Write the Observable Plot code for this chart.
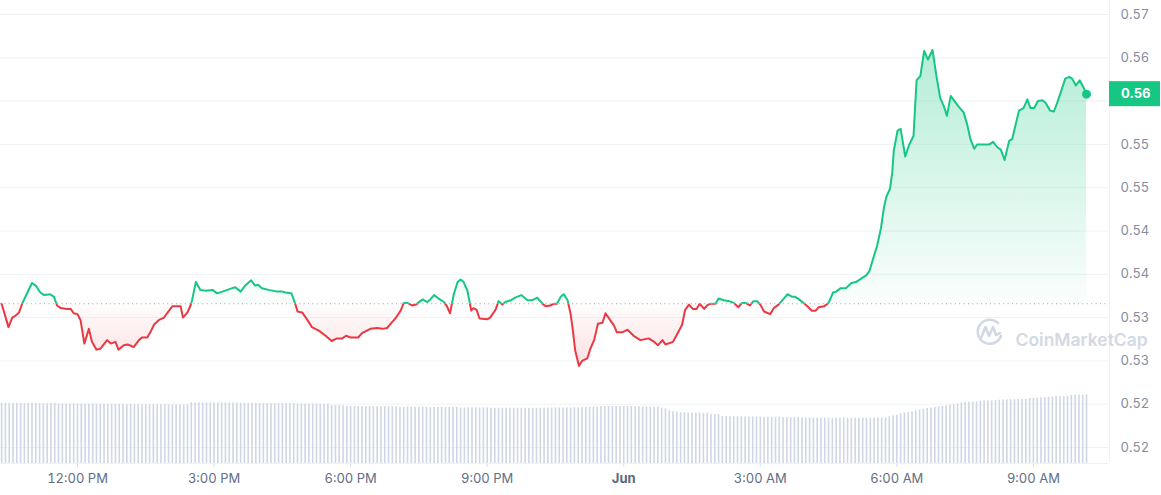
<!DOCTYPE html>
<html><head><meta charset="utf-8">
<script src="https://cdn.jsdelivr.net/npm/d3@7"></script>
<script src="https://cdn.jsdelivr.net/npm/@observablehq/plot@0.6"></script>
<style>
html,body{margin:0;padding:0;background:#fff;}
#chart{position:relative;width:1161px;height:495px;font-family:Inter,sans-serif;}
#chart svg{position:absolute;left:0;top:0;}
</style></head><body><div id="chart"></div>
<script>
// ---- data ----
const startUTC = Date.UTC(2024, 4, 31, 10, 20); // first sample: May 31, 10:20 AM
const priceMinutes = [0,9,14,18,23,27,34,40,45,51,56,64,69,73,78,86,91,95,100,104,109,115,119,125,130,139,144,150,154,161,166,174,181,185,192,196,201,207,214,218,225,236,239,245,249,251,256,262,269,278,284,291,304,308,315,321,329,334,338,343,352,363,370,374,382,387,390,396,401,409,418,427,435,442,449,454,460,470,475,486,495,502,508,515,519,526,530,535,541,546,552,555,561,565,570,576,583,587,591,596,601,605,609,614,619,622,626,630,640,644,651,655,660,664,671,677,685,693,699,706,713,717,723,728,732,737,741,746,750,753,756,761,765,772,776,781,786,792,796,803,807,811,818,825,833,842,853,860,865,871,875,885,893,897,901,906,911,916,920,926,930,934,941,945,952,959,965,971,976,981,986,991,996,1000,1005,1013,1018,1024,1031,1036,1042,1046,1051,1057,1062,1068,1073,1077,1084,1090,1096,1100,1106,1113,1120,1126,1133,1140,1144,1148,1154,1159,1163,1166,1171,1174,1176,1181,1185,1191,1196,1202,1206,1211,1216,1221,1227,1232,1237,1242,1246,1251,1256,1262,1268,1273,1277,1282,1286,1295,1302,1307,1312,1317,1322,1328,1332,1341,1347,1352,1356,1361,1366,1372,1376,1382,1387,1391,1396,1402,1407,1411,1416,1421,1427,1430];
const prices = [0.5366,0.5339,0.5350,0.5352,0.5356,0.5366,0.5379,0.5390,0.5387,0.5379,0.5376,0.5377,0.5374,0.5364,0.5361,0.5360,0.5360,0.5355,0.5354,0.5347,0.5320,0.5337,0.5322,0.5313,0.5314,0.5324,0.5320,0.5322,0.5313,0.5318,0.5319,0.5316,0.5324,0.5327,0.5327,0.5333,0.5342,0.5347,0.5350,0.5355,0.5363,0.5363,0.5350,0.5356,0.5364,0.5370,0.5391,0.5382,0.5381,0.5382,0.5378,0.5380,0.5384,0.5385,0.5380,0.5387,0.5393,0.5387,0.5388,0.5384,0.5382,0.5380,0.5380,0.5379,0.5378,0.5366,0.5357,0.5356,0.5350,0.5339,0.5335,0.5329,0.5323,0.5326,0.5326,0.5329,0.5327,0.5327,0.5332,0.5337,0.5338,0.5337,0.5338,0.5345,0.5349,0.5358,0.5367,0.5367,0.5364,0.5365,0.5369,0.5371,0.5368,0.5371,0.5376,0.5372,0.5368,0.5363,0.5355,0.5377,0.5391,0.5394,0.5391,0.5381,0.5358,0.5361,0.5359,0.5349,0.5348,0.5350,0.5359,0.5369,0.5365,0.5368,0.5370,0.5373,0.5376,0.5370,0.5370,0.5373,0.5366,0.5363,0.5364,0.5366,0.5366,0.5374,0.5377,0.5370,0.5354,0.5335,0.5312,0.5294,0.5300,0.5303,0.5314,0.5324,0.5343,0.5344,0.5355,0.5346,0.5341,0.5333,0.5333,0.5336,0.5329,0.5324,0.5326,0.5322,0.5318,0.5324,0.5319,0.5322,0.5335,0.5342,0.5359,0.5365,0.5360,0.5360,0.5366,0.5360,0.5364,0.5366,0.5366,0.5372,0.5370,0.5369,0.5367,0.5362,0.5367,0.5367,0.5364,0.5369,0.5369,0.5365,0.5357,0.5354,0.5361,0.5365,0.5372,0.5377,0.5374,0.5374,0.5371,0.5367,0.5363,0.5358,0.5358,0.5362,0.5363,0.5367,0.5379,0.5380,0.5384,0.5384,0.5390,0.5391,0.5395,0.5399,0.5404,0.5416,0.5433,0.5453,0.5477,0.5489,0.5499,0.5518,0.5543,0.5566,0.5568,0.5536,0.5549,0.5560,0.5624,0.5629,0.5658,0.5648,0.5659,0.5630,0.5604,0.5594,0.5583,0.5606,0.5600,0.5593,0.5587,0.5572,0.5556,0.5545,0.5550,0.5550,0.5550,0.5553,0.5547,0.5544,0.5532,0.5554,0.5556,0.5589,0.5592,0.5602,0.5592,0.5592,0.5600,0.5601,0.5598,0.5589,0.5588,0.5597,0.5610,0.5626,0.5628,0.5626,0.5618,0.5624,0.5614,0.5608];
const openPrice = 0.5366;
const volumeStepMinutes = 5;
const volumes = [241,241,241,240,240,
240,239,239,239,239,239,239,239,239,239,238,238,238,238,238,238,238,238,238,238,238,238,237,237,237,237,237,237,236,
236,235,235,235,235,235,235,235,235,235,235,234,234,234,234,235,
243,243,243,243,243,243,242,242,242,242,242,242,242,241,241,241,241,241,
240,240,239,239,239,239,239,239,239,239,238,238,238,238,238,238,237,237,237,
232,232,232,231,
229,229,228,228,228,228,228,228,228,227,227,227,227,227,
225,225,225,225,225,225,225,225,224,224,224,224,224,224,224,224,
222,222,222,222,222,222,222,222,221,221,221,221,221,221,221,221,221,221,221,221,221,221,221,221,222,222,222,222,222,222,223,223,
224,225,225,226,226,
228,228,228,228,228,228,228,228,228,
227,227,226,226,226,226,226,
220,219,
210,207,206,
203,203,202,202,202,202,201,201,
197,196,196,
188,188,187,187,187,187,186,186,186,186,186,185,185,185,185,185,184,184,184,184,184,
182,182,182,181,181,181,181,181,181,181,181,181,181,181,181,181,181,181,181,181,182,182,183,
187,190,193,
199,202,204,207,
211,214,216,
220,222,224,226,228,
231,234,236,239,
242,244,245,246,247,
249,250,251,251,252,
253,254,254,255,255,256,256,257,
260,261,262,263,263,
265,266,267,267,268,269,
272,273,274,274,275];
const yTickValues = [0.52,0.525,0.53,0.535,0.54,0.545,0.55,0.555,0.56,0.565,0.57];
const yTickLabels = ["0.52","0.52","0.53","0.53","0.54","0.54","0.55","0.55","0.56","0.56","0.57"];
const xTickMinutes = [100,280,460,640,820,1000,1180,1360];
const xTickLabels = ["12:00 PM","3:00 PM","6:00 PM","9:00 PM","Jun","3:00 AM","6:00 AM","9:00 AM"];
const xDomainMinutes = [-1.5, 1460.3];
const priceLabel = "0.56";
const watermark = "CoinMarketCap";

// ---- build ----
const GREEN = "#16c784", RED = "#ea3943";
const toDate = m => new Date(startUTC + m * 60000);
const priceData = priceMinutes.map((m, i) => ({time: toDate(m), price: prices[i]}));
const volData = volumes.map((v, i) => ({time: toDate(i * volumeStepMinutes), vol: v}));
const last = priceData[priceData.length - 1];
const yLabelMap = new Map(yTickValues.map((v, i) => [v, yTickLabels[i]]));
const xTicks = xTickMinutes.map(toDate);
const xLabelMap = new Map(xTicks.map((d, i) => [+d, xTickLabels[i]]));
const boldIdx = xTickLabels.indexOf("Jun");
const xTicksNormal = xTicks.filter((d, i) => i !== boldIdx);
const xTicksBold = xTicks.filter((d, i) => i === boldIdx);

const W = 1161, H = 495, ML = 0, MR = 52, MT = 0, MB = 32;
const xScale = {type: "utc", domain: xDomainMinutes.map(toDate), range: [ML, W - MR]};
const yScale = {domain: [0.52, 0.57], range: [447, 14], label: null};
// the tick label hidden behind the current-price tag is not shown
const yPix = v => yScale.range[0] + (v - yScale.domain[0]) / (yScale.domain[1] - yScale.domain[0]) * (yScale.range[1] - yScale.range[0]);
const yAxisTicks = yTickValues.filter(v => Math.abs(yPix(v) - yPix(last.price)) > 12);

const main = Plot.plot({
  width: W, height: H, marginLeft: ML, marginRight: MR, marginTop: MT, marginBottom: MB,
  x: {...xScale, label: null},
  y: yScale,
  style: {fontFamily: "Inter, sans-serif", fontSize: "13px", background: "white"},
  marks: [
    Plot.gridY(yTickValues, {stroke: "#eff2f5", strokeOpacity: 1}),
    Plot.areaY(priceData, {x: "time", y1: openPrice, y2: "price", fill: GREEN}),
    Plot.areaY(priceData, {x: "time", y1: openPrice, y2: "price", fill: RED}),
    Plot.ruleY([openPrice], {stroke: "#9aa3b5", strokeWidth: 1, strokeDasharray: "1,3.4"}),
    Plot.line(priceData, {x: "time", y: "price", stroke: GREEN, strokeWidth: 2}),
    Plot.line(priceData, {x: "time", y: "price", stroke: RED, strokeWidth: 2}),
    Plot.ruleX([xScale.domain[1]], {stroke: "#eff2f5"}),
    Plot.dot([last], {x: "time", y: "price", r: 4.5, fill: GREEN}),
    Plot.axisY(yAxisTicks, {anchor: "right", label: null, tickSize: 0, tickPadding: 11, tickFormat: d => yLabelMap.get(d), fill: "#858ca2", fontSize: 13}),
    Plot.axisX(xTicksNormal, {label: null, tickSize: 4, tickPadding: 6, stroke: "#d9dee8", tickFormat: d => xLabelMap.get(+d), fill: "#616e85", fontSize: 13}),
    Plot.axisX(xTicksBold, {label: null, tickSize: 4, tickPadding: 6, stroke: "#d9dee8", tickFormat: d => xLabelMap.get(+d), fill: "#58667e", fontWeight: "bold", fontSize: 13}),
    Plot.text([watermark], {frameAnchor: "top-left", dx: 1015, dy: 333, textAnchor: "start", fontSize: 17.5, fontWeight: 600, fill: "#d3d9e4"})
  ]
});

// gradients and clipping at the opening-price baseline
const ys = main.scale("y");
const baseY = ys.apply(openPrice);
const topY = ys.apply(d3.max(prices));
const botY = ys.apply(d3.min(prices));
const svg = d3.select(main);
const defs = svg.insert("defs", ":first-child");
const ug = defs.append("linearGradient").attr("id", "upGrad").attr("gradientUnits", "userSpaceOnUse")
  .attr("x1", 0).attr("x2", 0).attr("y1", topY).attr("y2", baseY);
ug.append("stop").attr("offset", 0).attr("stop-color", GREEN).attr("stop-opacity", 0.32);
ug.append("stop").attr("offset", 1).attr("stop-color", GREEN).attr("stop-opacity", 0.02);
const dg = defs.append("linearGradient").attr("id", "downGrad").attr("gradientUnits", "userSpaceOnUse")
  .attr("x1", 0).attr("x2", 0).attr("y1", baseY).attr("y2", botY);
dg.append("stop").attr("offset", 0).attr("stop-color", RED).attr("stop-opacity", 0.01);
dg.append("stop").attr("offset", 1).attr("stop-color", RED).attr("stop-opacity", 0.16);
defs.append("clipPath").attr("id", "clipUp").attr("clipPathUnits", "userSpaceOnUse").append("rect")
  .attr("x", -10).attr("y", -10).attr("width", W).attr("height", baseY + 10);
defs.append("clipPath").attr("id", "clipDown").attr("clipPathUnits", "userSpaceOnUse").append("rect")
  .attr("x", -10).attr("y", baseY).attr("width", W).attr("height", H);
const areas = svg.selectAll('g[aria-label="area"]').nodes();
const lines = svg.selectAll('g[aria-label="line"]').nodes();
d3.select(areas[0]).attr("clip-path", "url(#clipUp)").attr("fill", "url(#upGrad)").selectAll("path").attr("fill", null);
d3.select(areas[1]).attr("clip-path", "url(#clipDown)").attr("fill", "url(#downGrad)").selectAll("path").attr("fill", null);
d3.select(lines[0]).attr("clip-path", "url(#clipUp)");
d3.select(lines[1]).attr("clip-path", "url(#clipDown)");

// current-price tag in the right margin
const lastY = ys.apply(last.price);
const tag = svg.append("g");
tag.append("rect").attr("x", W - MR).attr("y", lastY - 12.5).attr("width", MR - 1).attr("height", 25).attr("fill", GREEN);
tag.append("text").attr("x", W - MR + 12).attr("y", lastY).attr("dy", "0.35em").attr("text-anchor", "start")
  .attr("fill", "white").attr("font-weight", "bold").attr("font-size", 13).text(priceLabel);

// watermark logo
const logo = svg.append("g").attr("fill", "none").attr("stroke", "#d3d9e4").attr("stroke-width", 2.6)
  .attr("stroke-linecap", "round").attr("stroke-linejoin", "round");
logo.append("path").attr("d", "M1001,336 A12,12 0 1 1 998,323");
logo.append("path").attr("d", "M981,338 L985.5,327 L989,336 L993,327 L996,335 L1000,333");

// volume overlay
const vol = Plot.plot({
  width: W, height: H, marginLeft: ML, marginRight: MR, marginTop: MT, marginBottom: MB,
  x: {...xScale, axis: null},
  y: {domain: [0, 400], range: [463, 363], axis: null},
  style: {background: "transparent"},
  marks: [
    Plot.ruleY([0], {stroke: "#eff2f5"}),
    Plot.ruleX(volData, {x: "time", y1: 0, y2: "vol", stroke: "#cfd6e4", strokeWidth: 1.6})
  ]
});

const chart = document.getElementById("chart");
chart.append(main);
chart.append(vol);
</script></body></html>
